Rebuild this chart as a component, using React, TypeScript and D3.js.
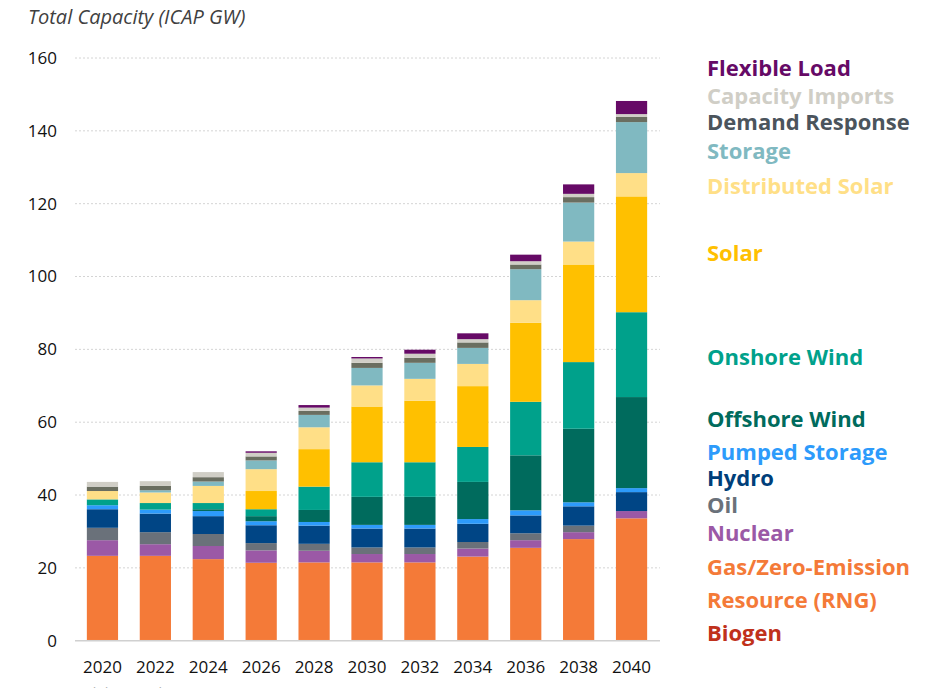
import React, { useRef, useEffect } from "react";
import * as d3 from "d3";

const years = ["2020", "2022", "2024", "2026", "2028", "2030", "2032", "2034", "2036", "2038", "2040"];

// GW per resource, bottom of the stack first
const biogen = [0.2, 0.2, 0.2, 0.2, 0.2, 0.2, 0.2, 0.2, 0.2, 0.2, 0.2];
const gas = [23.1, 23.1, 22.2, 21.2, 21.3, 21.3, 21.3, 22.9, 25.3, 27.7, 33.4];
const nuclear = [4.3, 3.2, 3.6, 3.4, 3.2, 2.3, 2.3, 2.2, 2.1, 1.9, 2.0];
const oil = [3.4, 3.3, 3.3, 2.0, 1.9, 1.8, 1.8, 1.8, 1.9, 1.8, 0];
const hydro = [5.1, 5.1, 4.9, 4.9, 5.0, 5.2, 5.2, 5.0, 4.9, 5.3, 5.2];
const pumpedStorage = [1.1, 1.1, 1.4, 1.1, 1.0, 1.0, 1.0, 1.3, 1.4, 1.1, 1.1];
const offshoreWind = [0, 0, 0.5, 1.4, 3.3, 7.7, 7.7, 10.2, 15.1, 20.2, 25.0];
const onshoreWind = [1.6, 1.8, 1.7, 1.9, 6.4, 9.5, 9.5, 9.6, 14.7, 18.3, 23.3];
const solar = [0, 0, 0, 5.0, 10.3, 15.3, 16.9, 16.7, 21.7, 26.8, 31.8];
const distributedSolar = [2.3, 2.9, 4.7, 6.0, 6.0, 5.8, 6.0, 6.1, 6.2, 6.3, 6.4];
const storage = [0, 0.6, 1.2, 2.4, 3.4, 4.8, 4.4, 4.4, 8.5, 10.7, 14.0];
const demandResponse = [1.2, 1.2, 1.2, 1.1, 1.1, 1.4, 1.4, 1.5, 1.3, 1.5, 1.4];
const capacityImports = [1.3, 1.3, 1.4, 1.0, 0.9, 1.2, 1.1, 0.9, 0.9, 0.9, 0.8];
const flexibleLoad = [0, 0, 0, 0.4, 0.7, 0.4, 1.1, 1.6, 1.8, 2.6, 3.6];

const yTicks = [0, 20, 40, 60, 80, 100, 120, 140, 160];

const series = [
  { key: "Biogen", values: biogen, color: "#c0311b" },
  { key: "Gas", values: gas, color: "#f47a38" },
  { key: "Nuclear", values: nuclear, color: "#9b59a6" },
  { key: "Oil", values: oil, color: "#6a717a" },
  { key: "Hydro", values: hydro, color: "#004585" },
  { key: "Pumped Storage", values: pumpedStorage, color: "#2d9bfb" },
  { key: "Offshore Wind", values: offshoreWind, color: "#006b5d" },
  { key: "Onshore Wind", values: onshoreWind, color: "#00a18b" },
  { key: "Solar", values: solar, color: "#ffc000" },
  { key: "Distributed Solar", values: distributedSolar, color: "#ffdf87" },
  { key: "Storage", values: storage, color: "#80b9c1" },
  { key: "Demand Response", values: demandResponse, color: "#6a6e60" },
  { key: "Capacity Imports", values: capacityImports, color: "#d0cec6" },
  { key: "Flexible Load", values: flexibleLoad, color: "#660a66" },
];

// legend lines, top to bottom (label, text colour, y of centre)
const legend = [
  { label: "Flexible Load", color: "#660a66", y: 68 },
  { label: "Capacity Imports", color: "#d0cec6", y: 96 },
  { label: "Demand Response", color: "#4b545c", y: 122 },
  { label: "Storage", color: "#80b9c1", y: 151 },
  { label: "Distributed Solar", color: "#ffdf87", y: 186 },
  { label: "Solar", color: "#ffc000", y: 253 },
  { label: "Onshore Wind", color: "#00a18b", y: 357 },
  { label: "Offshore Wind", color: "#006b5d", y: 419 },
  { label: "Pumped Storage", color: "#2d9bfb", y: 452 },
  { label: "Hydro", color: "#003f7a", y: 478 },
  { label: "Oil", color: "#6a717a", y: 505 },
  { label: "Nuclear", color: "#9b59a6", y: 533 },
  { label: "Gas/Zero-Emission", color: "#f47a38", y: 567 },
  { label: "Resource (RNG)", color: "#f47a38", y: 600 },
  { label: "Biogen", color: "#c0311b", y: 633 },
];

const W = 939;
const H = 688;
const wideFont = "'Open Sans', Lato, sans-serif";

export default function App() {
  const svgRef = useRef<SVGSVGElement>(null);

  useEffect(() => {
    const svg = d3.select(svgRef.current);
    svg.selectAll("*").remove();

    const x = d3.scaleBand().domain(years).range([76, 658]).paddingInner(0.41).paddingOuter(0.205);
    const y = d3.scaleLinear().domain([0, 160]).range([640.7, 58]);

    const rows = years.map((yr, i) => {
      const r: any = { year: yr };
      series.forEach(s => (r[s.key] = s.values[i]));
      return r;
    });
    const stacked = d3.stack().keys(series.map(s => s.key))(rows);

    // title
    svg.append("text")
      .attr("x", 28).attr("y", 24)
      .attr("font-family", wideFont).attr("font-style", "italic")
      .attr("font-size", 20).attr("fill", "#404040")
      .text("Total Capacity (ICAP GW)");

    // grid
    svg.append("g").selectAll("line")
      .data(yTicks.filter(t => t > 0))
      .enter().append("line")
      .attr("x1", 75).attr("x2", 660)
      .attr("y1", d => y(d)).attr("y2", d => y(d))
      .attr("stroke", "#d4d4d4").attr("stroke-width", 1)
      .attr("stroke-dasharray", "2,2");

    // y labels
    svg.append("g").selectAll("text")
      .data(yTicks)
      .enter().append("text")
      .attr("x", 57).attr("y", d => y(d))
      .attr("dy", "0.35em").attr("text-anchor", "end")
      .attr("font-family", wideFont).attr("font-size", 17).attr("fill", "#111")
      .text(d => d);

    // bars
    svg.append("g").selectAll("g")
      .data(stacked)
      .enter().append("g")
      .attr("fill", (_d, i) => series[i].color)
      .selectAll("rect")
      .data(d => d)
      .enter().append("rect")
      .attr("x", d => x(d.data.year as string)!)
      .attr("width", x.bandwidth())
      .attr("y", d => y(d[1]))
      .attr("height", d => Math.max(0, y(d[0]) - y(d[1])));

    // baseline
    svg.append("line")
      .attr("x1", 75).attr("x2", 660)
      .attr("y1", y(0)).attr("y2", y(0))
      .attr("stroke", "#d0d0d0").attr("stroke-width", 1.5);

    // x labels
    svg.append("g").selectAll("text")
      .data(years)
      .enter().append("text")
      .attr("x", d => x(d)! + x.bandwidth() / 2)
      .attr("y", 667).attr("dy", "0.35em")
      .attr("text-anchor", "middle")
      .attr("font-family", wideFont).attr("font-size", 17).attr("fill", "#111")
      .text(d => d);

    // legend
    svg.append("g").selectAll("text")
      .data(legend)
      .enter().append("text")
      .attr("x", 707).attr("y", d => d.y).attr("dy", "0.35em")
      .attr("font-family", wideFont).attr("font-weight", "bold")
      .attr("font-size", 22).attr("fill", d => d.color)
      .text(d => d.label);

    // footnote, cut off by the page edge as in the source slide
    svg.append("text")
      .attr("x", 58).attr("y", 698)
      .attr("font-family", wideFont).attr("font-size", 14).attr("fill", "#b0b0b0")
      .text("See Slide 2 Disclaimer");
  }, []);

  return (
    <svg
      ref={svgRef}
      width={W}
      height={H}
      style={{ position: "absolute", left: 0, top: 0, background: "#fff" }}
    />
  );
}
